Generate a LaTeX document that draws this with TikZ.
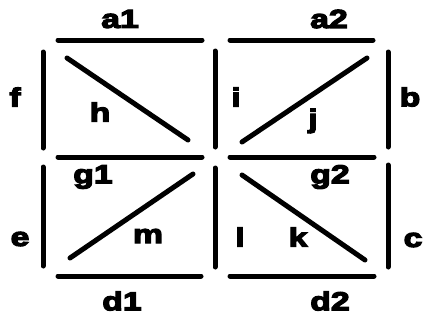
\documentclass[tikz,border=0pt]{standalone}
\usepackage{fontspec}
\setmainfont{Liberation Sans}
\newfontfamily\heavyfont{Liberation Sans Bold}[FakeBold=5,FakeStretch=1.3]
\usetikzlibrary{positioning}
\tikzset{seg/.style={line width=5pt, line cap=round},
         lbl/.style={font=\fontsize{26}{26}\heavyfont, inner sep=0pt}}

\begin{document}
\begin{tikzpicture}[x=1pt,y=-1pt]
        \useasboundingbox (0,0) rectangle (425,324);

        % ==========================================
        % Horizontal segments
        % ==========================================
        \draw[seg] (58,40) -- (202,40);    % a1
        \draw[seg] (230,40) -- (373,40);   % a2
        \draw[seg] (58,157) -- (202,157);  % g1
        \draw[seg] (230,157) -- (374,157); % g2
        \draw[seg] (58,276) -- (201,276);  % d1
        \draw[seg] (230,276) -- (374,276); % d2

        % ==========================================
        % Vertical segments
        % ==========================================
        \draw[seg] (43,52) -- (43,148);    % f
        \draw[seg] (215,51) -- (215,147);  % i
        \draw[seg] (388,52) -- (388,147);  % b
        \draw[seg] (43,167) -- (43,266);   % e
        \draw[seg] (215,168) -- (215,267); % l
        \draw[seg] (388,165) -- (388,267); % c

        % ==========================================
        % Diagonal segments
        % ==========================================
        \draw[seg] (67,58) -- (188,140);   % h
        \draw[seg] (242,142) -- (367,58);  % j
        \draw[seg] (70,258) -- (193,174);  % m
        \draw[seg] (242,175) -- (365,260); % k

        % ==========================================
        % Labels
        % ==========================================
        \node[lbl] (a1) at (120,19) {a1};
        \node[lbl] (a2) at (329,19) {a2};
        \node[lbl] (f) at (15,97) {f};
        \node[lbl] (h) at (100,112) {h};
        \node[lbl] (i) at (236,97) {i};
        \node[lbl] (j) at (313,121) {j};
        \node[lbl] (b) at (410,97) {b};
        \node[lbl] (g1) at (93,177) {g1};
        \node[lbl] (g2) at (330,177) {g2};
        \node[lbl] (e) at (20,239) {e};
        \node[lbl] (m) at (148,236) {m};
        \node[lbl] (l) at (240,237) {l};
        \node[lbl] (k) at (298,237) {k};
        \node[lbl] (c) at (413,240) {c};
        \node[lbl] (d1) at (122,301) {d1};
        \node[lbl] (d2) at (330,301) {d2};

    \end{tikzpicture}
\end{document}
